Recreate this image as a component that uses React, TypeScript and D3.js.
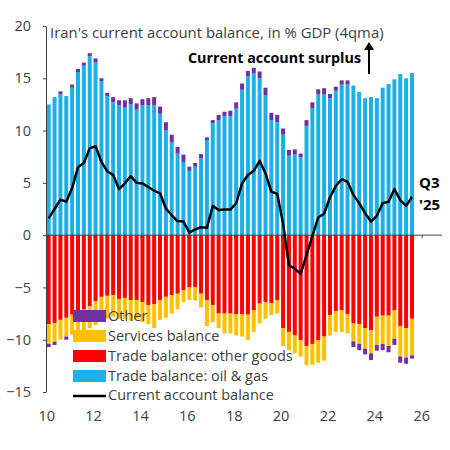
import { useRef, useEffect } from "react";
import * as d3 from "d3";

// quarterly, 2010 Q1 .. 2025 Q3 (% of GDP, 4-quarter moving average)
const oilGas = [
  12.5, 13.2, 13.5, 13.3, 14.1, 15.6, 16.2, 17.1, 16.5, 14.7, 13.3, 12.7, 12.4, 12.2, 12.5, 12.0,
  12.4, 12.4, 12.4, 11.6, 10.0, 8.9, 7.8, 7.0, 6.15, 6.55, 7.35, 9.05, 10.7, 11.0, 11.4, 11.4,
  12.1, 13.9, 15.2, 15.5, 15.0, 13.4, 11.0, 10.8, 9.6, 7.6, 7.7, 7.45, 10.45, 12.15, 13.5, 13.5,
  13.1, 13.8, 14.4, 14.4, 14.3, 13.7, 13.1, 13.2, 13.1, 14.1, 14.45, 14.9, 15.4, 15.0, 15.5,
];
const otherGoods = [
  -8.5, -8.4, -8.1, -7.9, -7.6, -7.4, -7.1, -6.8, -6.3, -5.9, -5.8, -5.75, -6.1, -6.0, -6.2, -6.2,
  -6.4, -6.7, -6.6, -6.2, -5.9, -5.75, -5.6, -5.25, -5.0, -4.95, -5.6, -6.2, -6.7, -7.5, -7.5, -7.5,
  -7.55, -7.55, -7.6, -7.2, -6.55, -6.4, -6.5, -6.2, -8.9, -9.25, -9.6, -10.05, -10.6, -10.4, -10.05, -9.7,
  -7.65, -7.25, -7.2, -7.55, -8.45, -8.5, -8.9, -9.1, -7.8, -7.7, -7.7, -7.2, -8.7, -8.9, -8.0,
];
const services = [
  -1.9, -1.8, -1.9, -1.8, -1.9, -2.0, -2.1, -2.1, -2.3, -2.4, -2.2, -2.05, -1.9, -2.0, -2.0, -1.8,
  -1.9, -1.8, -2.3, -1.9, -2.0, -1.75, -1.5, -1.15, -1.2, -1.3, -1.3, -2.5, -1.6, -1.4, -1.9, -1.9,
  -2.05, -2.15, -2.45, -2.05, -1.9, -1.6, -1.15, -1.3, -1.7, -1.75, -1.7, -1.55, -1.85, -2.0, -2.15, -2.3,
  -1.95, -2.0, -2.05, -1.85, -1.7, -1.9, -1.95, -2.2, -2.7, -2.7, -2.9, -2.7, -2.9, -2.8, -3.5,
];
const other = [
  -0.3, -0.3, 0.25, -0.3, 0.3, 0.3, 0.3, 0.3, 0.4, 0.3, 0.3, 0.5, 0.5, 0.7, 0.6, 0.6,
  0.6, 0.7, 0.8, 0.7, 0.8, 0.7, 0.65, 0.7, 0.4, 0.35, 0.4, 0.3, 0.3, 0.5, 0.4, 0.5,
  0.6, 0.6, 0.5, 0.5, 0.65, 0.7, 0.7, 0.7, 0.6, 0.55, 0.5, 0.35, 0.55, 0.55, 0.45, 0.55,
  0.4, 0.4, 0.4, 0.4, -0.55, -0.6, -0.55, -0.65, -0.55, -0.6, -0.6, -0.6, -0.6, -0.6, -0.3,
];
const currentAccount = [
  1.6, 2.5, 3.4, 3.2, 4.5, 6.5, 6.9, 8.3, 8.5, 7.0, 6.1, 5.75, 4.4, 4.95, 5.65, 5.0,
  4.95, 4.6, 4.25, 4.0, 2.55, 1.9, 1.35, 1.3, 0.25, 0.55, 0.75, 0.7, 2.8, 2.4, 2.45, 2.45,
  3.05, 4.95, 5.75, 6.15, 7.1, 5.9, 4.15, 3.95, 1.1, -2.9, -3.2, -3.7, -1.9, -0.1, 1.7, 2.05,
  3.6, 4.7, 5.35, 5.1, 3.85, 3.05, 2.1, 1.3, 1.85, 3.05, 3.2, 4.4, 3.35, 2.8, 3.65,
];

const yTicks = [20, 15, 10, 5, 0, -5, -10, -15];
const xTicks = [2010, 2012, 2014, 2016, 2018, 2020, 2022, 2024, 2026];

const KEYS = ["oil", "goods", "services", "other"] as const;
const COLORS: Record<string, string> = {
  oil: "#1cb0e6",
  goods: "#ff0000",
  services: "#ffc000",
  other: "#7030a0",
};
const LEGEND = [
  { key: "other", label: "Other" },
  { key: "services", label: "Services balance" },
  { key: "goods", label: "Trade balance: other goods" },
  { key: "oil", label: "Trade balance: oil & gas" },
];

const FONT = "'Open Sans', sans-serif";
const TXT = "#404040";

export default function App() {
  const ref = useRef<SVGSVGElement | null>(null);

  useEffect(() => {
    const svg = d3.select(ref.current);
    svg.selectAll("*").remove();

    const rows = oilGas.map((v, i) => ({
      t: 2010 + i / 4,
      oil: v,
      goods: otherGoods[i],
      services: services[i],
      other: other[i],
      ca: currentAccount[i],
    }));

    const x = d3.scaleLinear().domain([2010, 2026]).range([46.7, 421.7]);
    const y = d3.scaleLinear().domain([-15, 20]).range([392, 26]);
    const barW = 4;

    const stack = d3
      .stack<any>()
      .keys(KEYS as any)
      .offset(d3.stackOffsetDiverging);
    const layers = stack(rows);

    layers.forEach((layer) => {
      svg
        .append("g")
        .attr("fill", COLORS[layer.key])
        .selectAll("rect")
        .data(layer)
        .join("rect")
        .attr("x", (d) => x(d.data.t))
        .attr("width", barW)
        .attr("y", (d) => y(Math.max(d[0], d[1])))
        .attr("height", (d) => Math.abs(y(d[0]) - y(d[1])));
    });

    // y axis
    const yAxis = svg
      .append("g")
      .attr("transform", `translate(46,0)`)
      .call(d3.axisLeft(y).tickValues(yTicks).tickSize(3).tickSizeOuter(0).tickFormat(d3.format("d")));
    yAxis.select(".domain").attr("stroke", "#404040");
    yAxis.selectAll(".tick line").attr("stroke", "#404040");
    yAxis
      .selectAll(".tick text")
      .attr("x", -15)
      .attr("font-family", FONT)
      .attr("font-size", 14.5)
      .attr("fill", TXT);

    // x axis along zero
    const xAxis = svg
      .append("g")
      .attr("transform", `translate(0,${y(0)})`)
      .call(d3.axisBottom(x).tickValues(xTicks).tickSize(3).tickSizeOuter(0).tickFormat(() => ""));
    xAxis.select(".domain").attr("stroke", "#404040").attr("d", `M46,0H442`);
    xAxis.selectAll(".tick line").attr("stroke", "#404040");

    svg
      .append("g")
      .selectAll("text")
      .data(xTicks)
      .join("text")
      .attr("x", (d) => x(d))
      .attr("y", 421)
      .attr("text-anchor", "middle")
      .attr("font-family", FONT)
      .attr("font-size", 14.5)
      .attr("fill", TXT)
      .text((d) => String(d % 100));

    // current account line
    const line = d3
      .line<(typeof rows)[number]>()
      .x((d) => x(d.t) + barW / 2)
      .y((d) => y(d.ca));
    svg
      .append("path")
      .datum(rows)
      .attr("fill", "none")
      .attr("stroke", "#000")
      .attr("stroke-width", 2.5)
      .attr("stroke-linejoin", "round")
      .attr("d", line);

    // title and annotations
    svg
      .append("text")
      .attr("x", 50)
      .attr("y", 38)
      .attr("font-family", FONT)
      .attr("font-size", 14.9)
      .attr("fill", TXT)
      .text("Iran's current account balance, in % GDP (4qma)");

    svg
      .append("text")
      .attr("x", 361)
      .attr("y", 63)
      .attr("text-anchor", "end")
      .attr("font-family", FONT)
      .attr("font-size", 14.3)
      .attr("font-weight", 700)
      .attr("fill", "#000")
      .text("Current account surplus");

    svg
      .append("line")
      .attr("x1", 369)
      .attr("x2", 369)
      .attr("y1", 74)
      .attr("y2", 49)
      .attr("stroke", "#000")
      .attr("stroke-width", 2);
    svg.append("path").attr("d", "M364,50 L369,42 L374,50 Z").attr("fill", "#000");

    svg
      .append("text")
      .attr("x", 419)
      .attr("y", 188)
      .attr("font-family", FONT)
      .attr("font-size", 15)
      .attr("font-weight", 700)
      .text("Q3");
    svg
      .append("text")
      .attr("x", 419)
      .attr("y", 210)
      .attr("font-family", FONT)
      .attr("font-size", 15)
      .attr("font-weight", 700)
      .text("'25");

    // legend
    const lg = svg.append("g").attr("font-family", FONT).attr("font-size", 14.5).attr("fill", TXT);
    LEGEND.forEach((d, i) => {
      const cy = 316 + i * 20;
      lg.append("rect").attr("x", 73).attr("y", cy - 6).attr("width", 33).attr("height", 12).attr("fill", COLORS[d.key]);
      lg.append("text").attr("x", 108).attr("y", cy + 5).text(d.label);
    });
    lg.append("line").attr("x1", 73).attr("x2", 106).attr("y1", 396).attr("y2", 396).attr("stroke", "#000").attr("stroke-width", 2.5);
    lg.append("text").attr("x", 108).attr("y", 400).text("Current account balance");
  }, []);

  return (
    <svg
      ref={ref}
      width={450}
      height={450}
      style={{ position: "absolute", left: 0, top: 0, background: "#fff" }}
    />
  );
}
